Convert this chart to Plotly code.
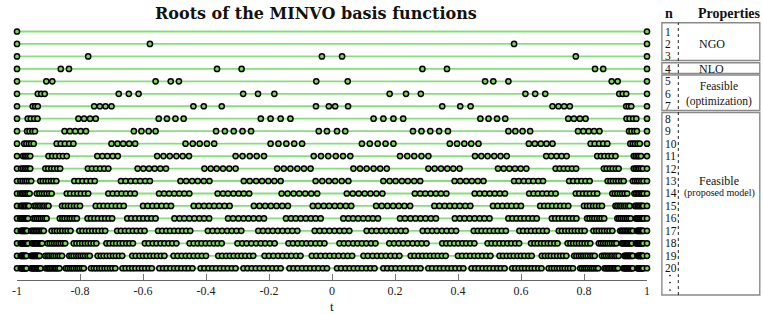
import plotly.graph_objects as go

# ---------------- data ----------------
T_MIN, T_MAX = -1.0, 1.0

n01 = [-1, 1]
n02 = [-1, -0.578, 0.578, 1]
n03 = [-1, -0.774, -0.032, 0.032, 0.774, 1]
n04 = [-1, -0.861, -0.835, -0.365, -0.287, 0.287, 0.365, 0.835, 0.861, 1]
n05 = [-1, -0.907, -0.888, -0.560, -0.512, -0.486, -0.050, 0.050, 0.486, 0.512, 0.560, 0.888, 0.907, 1]
n06 = [-1, -0.934, -0.923, -0.912, -0.677, -0.645, -0.614, -0.282, -0.235, -0.183,
       0.183, 0.235, 0.282, 0.614, 0.645, 0.677, 0.912, 0.923, 0.934, 1]
n07 = [-1, -0.950, -0.942, -0.934, -0.755, -0.737, -0.719, -0.700, -0.440, -0.407, -0.350,
       -0.051, -0.010, 0.010, 0.051,
       0.350, 0.407, 0.440, 0.700, 0.719, 0.737, 0.755, 0.934, 0.942, 0.950, 1]
n08 = [-1, -0.966, -0.956, -0.945, -0.935, -0.805, -0.787, -0.768, -0.750,
       -0.550, -0.524, -0.497, -0.471, -0.226, -0.195, -0.163, -0.132,
       0.132, 0.163, 0.195, 0.226, 0.471, 0.497, 0.524, 0.550,
       0.750, 0.768, 0.787, 0.805, 0.935, 0.945, 0.956, 0.966, 1]
n09 = [-1, -0.968, -0.960, -0.951, -0.943, -0.849, -0.832, -0.815, -0.798, -0.781,
       -0.629, -0.605, -0.582, -0.560, -0.368, -0.340, -0.312, -0.284, -0.257,
       -0.042, -0.016, 0.016, 0.042,
       0.257, 0.284, 0.312, 0.340, 0.368, 0.560, 0.582, 0.605, 0.629,
       0.781, 0.798, 0.815, 0.832, 0.849, 0.943, 0.951, 0.960, 0.968, 1]
n10 = [-1, -0.977, -0.970, -0.962, -0.955, -0.947, -0.874, -0.861, -0.848, -0.834, -0.821,
       -0.700, -0.681, -0.663, -0.644, -0.625, -0.465, -0.442, -0.420, -0.397, -0.374,
       -0.195, -0.170, -0.145, -0.120, -0.095,
       0.095, 0.120, 0.145, 0.170, 0.195, 0.374, 0.397, 0.420, 0.442, 0.465,
       0.625, 0.644, 0.663, 0.681, 0.700, 0.821, 0.834, 0.848, 0.861, 0.874,
       0.947, 0.955, 0.962, 0.970, 0.977, 1]
n11 = [-1, -0.981, -0.975, -0.970, -0.964, -0.958, -0.900, -0.888, -0.877, -0.865, -0.854, -0.842,
       -0.745, -0.729, -0.713, -0.696, -0.680, -0.555, -0.535, -0.515, -0.494, -0.474, -0.454,
       -0.306, -0.284, -0.261, -0.239, -0.216,
       -0.058, -0.035, -0.012, 0.012, 0.035, 0.058,
       0.216, 0.239, 0.261, 0.284, 0.306, 0.454, 0.474, 0.494, 0.515, 0.535, 0.555,
       0.680, 0.696, 0.713, 0.729, 0.745, 0.842, 0.854, 0.865, 0.877, 0.888, 0.900,
       0.958, 0.964, 0.970, 0.975, 0.981, 1]
n12 = [-1, -0.987, -0.981, -0.975, -0.970, -0.964, -0.958, -0.910, -0.901, -0.891, -0.882, -0.872, -0.863,
       -0.775, -0.762, -0.749, -0.736, -0.723, -0.710, -0.617, -0.599, -0.581, -0.563, -0.545, -0.527,
       -0.405, -0.385, -0.366, -0.346, -0.326, -0.306, -0.174, -0.153, -0.132, -0.110, -0.089, -0.068,
       0.068, 0.089, 0.110, 0.132, 0.153, 0.174, 0.306, 0.326, 0.346, 0.366, 0.385, 0.405,
       0.527, 0.545, 0.563, 0.581, 0.599, 0.617, 0.710, 0.723, 0.736, 0.749, 0.762, 0.775,
       0.863, 0.872, 0.882, 0.891, 0.901, 0.910, 0.958, 0.964, 0.970, 0.975, 0.981, 0.987, 1]
n13 = [-1, -0.989, -0.982, -0.975, -0.969, -0.962, -0.955,
       -0.926, -0.918, -0.909, -0.901, -0.892, -0.884, -0.875,
       -0.818, -0.805, -0.792, -0.779, -0.766, -0.753,
       -0.670, -0.655, -0.639, -0.624, -0.609, -0.593, -0.578,
       -0.481, -0.463, -0.444, -0.426, -0.407, -0.389,
       -0.280, -0.261, -0.241, -0.222, -0.202, -0.183, -0.163,
       -0.052, -0.031, -0.010, 0.010, 0.031, 0.052,
       0.163, 0.183, 0.202, 0.222, 0.241, 0.261, 0.280,
       0.389, 0.407, 0.426, 0.444, 0.463, 0.481,
       0.578, 0.593, 0.609, 0.624, 0.639, 0.655, 0.670,
       0.753, 0.766, 0.779, 0.792, 0.805, 0.818,
       0.875, 0.884, 0.892, 0.901, 0.909, 0.918, 0.926,
       0.955, 0.962, 0.969, 0.975, 0.982, 0.989, 1]
n14 = [-1, -0.990, -0.985, -0.980, -0.975, -0.970, -0.965, -0.960,
       -0.937, -0.929, -0.921, -0.914, -0.906, -0.898, -0.890,
       -0.842, -0.831, -0.819, -0.808, -0.797, -0.785, -0.774,
       -0.710, -0.696, -0.682, -0.668, -0.654, -0.640, -0.626,
       -0.549, -0.533, -0.517, -0.501, -0.485, -0.469, -0.453,
       -0.363, -0.346, -0.330, -0.313, -0.296, -0.280, -0.263,
       -0.160, -0.141, -0.122, -0.104, -0.085, -0.066, -0.047,
       0.047, 0.066, 0.085, 0.104, 0.122, 0.141, 0.160,
       0.263, 0.280, 0.296, 0.313, 0.330, 0.346, 0.363,
       0.453, 0.469, 0.485, 0.501, 0.517, 0.533, 0.549,
       0.626, 0.640, 0.654, 0.668, 0.682, 0.696, 0.710,
       0.774, 0.785, 0.797, 0.808, 0.819, 0.831, 0.842,
       0.890, 0.898, 0.906, 0.914, 0.921, 0.929, 0.937,
       0.960, 0.965, 0.970, 0.975, 0.980, 0.985, 0.990, 1]
n15 = [-1, -0.988, -0.984, -0.979, -0.975, -0.971, -0.966, -0.962,
       -0.945, -0.939, -0.932, -0.926, -0.919, -0.913, -0.906, -0.900,
       -0.857, -0.848, -0.838, -0.829, -0.819, -0.810, -0.800,
       -0.750, -0.737, -0.725, -0.712, -0.699, -0.686, -0.674, -0.661,
       -0.600, -0.585, -0.570, -0.556, -0.541, -0.526, -0.511,
       -0.439, -0.423, -0.406, -0.390, -0.374, -0.358, -0.341, -0.325,
       -0.248, -0.230, -0.212, -0.194, -0.176, -0.158, -0.140,
       -0.061, -0.044, -0.026, -0.009, 0.009, 0.026, 0.044, 0.061,
       0.140, 0.158, 0.176, 0.194, 0.212, 0.230, 0.248,
       0.325, 0.341, 0.358, 0.374, 0.390, 0.406, 0.423, 0.439,
       0.511, 0.526, 0.541, 0.556, 0.570, 0.585, 0.600,
       0.661, 0.674, 0.686, 0.699, 0.712, 0.725, 0.737, 0.750,
       0.800, 0.810, 0.819, 0.829, 0.838, 0.848, 0.857,
       0.900, 0.906, 0.913, 0.919, 0.926, 0.932, 0.939, 0.945,
       0.962, 0.966, 0.971, 0.975, 0.979, 0.984, 0.988, 1]
n16 = [-1, -0.990, -0.986, -0.983, -0.979, -0.976, -0.972, -0.969, -0.965,
       -0.948, -0.942, -0.936, -0.930, -0.924, -0.918, -0.912, -0.906,
       -0.864, -0.856, -0.849, -0.841, -0.833, -0.826, -0.818, -0.810,
       -0.776, -0.765, -0.754, -0.743, -0.731, -0.720, -0.709, -0.698,
       -0.650, -0.637, -0.624, -0.611, -0.599, -0.586, -0.573, -0.560,
       -0.500, -0.484, -0.469, -0.453, -0.437, -0.421, -0.406, -0.390,
       -0.330, -0.314, -0.297, -0.281, -0.265, -0.249, -0.232, -0.216,
       -0.146, -0.130, -0.115, -0.099, -0.083, -0.067, -0.052, -0.036,
       0.036, 0.052, 0.067, 0.083, 0.099, 0.115, 0.130, 0.146,
       0.216, 0.232, 0.249, 0.265, 0.281, 0.297, 0.314, 0.330,
       0.390, 0.406, 0.421, 0.437, 0.453, 0.469, 0.484, 0.500,
       0.560, 0.573, 0.586, 0.599, 0.611, 0.624, 0.637, 0.650,
       0.698, 0.709, 0.720, 0.731, 0.743, 0.754, 0.765, 0.776,
       0.810, 0.818, 0.826, 0.833, 0.841, 0.849, 0.856, 0.864,
       0.906, 0.912, 0.918, 0.924, 0.930, 0.936, 0.942, 0.948,
       0.965, 0.969, 0.972, 0.976, 0.979, 0.983, 0.986, 0.990, 1]
n17 = [-1, -0.988, -0.985, -0.982, -0.979, -0.977, -0.974, -0.971, -0.968,
       -0.955, -0.950, -0.945, -0.940, -0.935, -0.930, -0.925, -0.920, -0.915,
       -0.890, -0.881, -0.873, -0.864, -0.856, -0.847, -0.839, -0.830,
       -0.802, -0.792, -0.781, -0.771, -0.761, -0.751, -0.741, -0.730, -0.720,
       -0.682, -0.670, -0.657, -0.645, -0.632, -0.620, -0.607, -0.595,
       -0.552, -0.539, -0.526, -0.514, -0.501, -0.488, -0.475, -0.463, -0.450,
       -0.394, -0.379, -0.364, -0.349, -0.333, -0.318, -0.303, -0.288,
       -0.234, -0.219, -0.203, -0.188, -0.172, -0.157, -0.141, -0.126, -0.110,
       -0.055, -0.039, -0.024, -0.008, 0.008, 0.024, 0.039, 0.055,
       0.110, 0.126, 0.141, 0.157, 0.172, 0.188, 0.203, 0.219, 0.234,
       0.288, 0.303, 0.318, 0.333, 0.349, 0.364, 0.379, 0.394,
       0.450, 0.463, 0.475, 0.488, 0.501, 0.514, 0.526, 0.539, 0.552,
       0.595, 0.607, 0.620, 0.632, 0.645, 0.657, 0.670, 0.682,
       0.720, 0.730, 0.741, 0.751, 0.761, 0.771, 0.781, 0.792, 0.802,
       0.830, 0.839, 0.847, 0.856, 0.864, 0.873, 0.881, 0.890,
       0.915, 0.920, 0.925, 0.930, 0.935, 0.940, 0.945, 0.950, 0.955,
       0.968, 0.971, 0.974, 0.977, 0.979, 0.982, 0.985, 0.988, 1]
n18 = [-1, -0.988, -0.985, -0.982, -0.979, -0.977, -0.974, -0.971, -0.968, -0.965,
       -0.952, -0.948, -0.944, -0.940, -0.936, -0.932, -0.928, -0.924, -0.920,
       -0.903, -0.896, -0.889, -0.882, -0.875, -0.868, -0.861, -0.854, -0.847,
       -0.820, -0.811, -0.802, -0.793, -0.784, -0.775, -0.766, -0.757, -0.748,
       -0.716, -0.706, -0.695, -0.685, -0.674, -0.664, -0.653, -0.643, -0.632,
       -0.594, -0.582, -0.569, -0.557, -0.544, -0.532, -0.519, -0.507, -0.494,
       -0.452, -0.439, -0.426, -0.414, -0.401, -0.388, -0.375, -0.363, -0.350,
       -0.300, -0.285, -0.271, -0.256, -0.241, -0.226, -0.212, -0.197, -0.182,
       -0.138, -0.124, -0.109, -0.095, -0.081, -0.067, -0.052, -0.038, -0.024,
       0.024, 0.038, 0.052, 0.067, 0.081, 0.095, 0.109, 0.124, 0.138,
       0.182, 0.197, 0.212, 0.226, 0.241, 0.256, 0.271, 0.285, 0.300,
       0.350, 0.363, 0.375, 0.388, 0.401, 0.414, 0.426, 0.439, 0.452,
       0.494, 0.507, 0.519, 0.532, 0.544, 0.557, 0.569, 0.582, 0.594,
       0.632, 0.643, 0.653, 0.664, 0.674, 0.685, 0.695, 0.706, 0.716,
       0.748, 0.757, 0.766, 0.775, 0.784, 0.793, 0.802, 0.811, 0.820,
       0.847, 0.854, 0.861, 0.868, 0.875, 0.882, 0.889, 0.896, 0.903,
       0.920, 0.924, 0.928, 0.932, 0.936, 0.940, 0.944, 0.948, 0.952,
       0.965, 0.968, 0.971, 0.974, 0.977, 0.979, 0.982, 0.985, 0.988, 1]
n19 = [-1, -0.988, -0.986, -0.984, -0.981, -0.979, -0.977, -0.975, -0.972, -0.970,
       -0.955, -0.952, -0.949, -0.946, -0.943, -0.940, -0.937, -0.934, -0.931, -0.928,
       -0.910, -0.903, -0.897, -0.890, -0.884, -0.877, -0.870, -0.864, -0.857,
       -0.834, -0.827, -0.820, -0.812, -0.805, -0.798, -0.791, -0.784, -0.776, -0.769,
       -0.744, -0.734, -0.725, -0.715, -0.705, -0.695, -0.686, -0.676, -0.666,
       -0.634, -0.623, -0.611, -0.600, -0.589, -0.577, -0.566, -0.555, -0.543, -0.532,
       -0.503, -0.490, -0.477, -0.464, -0.452, -0.439, -0.426, -0.413, -0.400,
       -0.361, -0.349, -0.336, -0.324, -0.312, -0.299, -0.287, -0.275, -0.262, -0.250,
       -0.214, -0.200, -0.186, -0.171, -0.157, -0.143, -0.129, -0.114, -0.100,
       -0.064, -0.050, -0.036, -0.021, -0.007, 0.007, 0.021, 0.036, 0.050, 0.064,
       0.100, 0.114, 0.129, 0.143, 0.157, 0.171, 0.186, 0.200, 0.214,
       0.250, 0.262, 0.275, 0.287, 0.299, 0.312, 0.324, 0.336, 0.349, 0.361,
       0.400, 0.413, 0.426, 0.439, 0.452, 0.464, 0.477, 0.490, 0.503,
       0.532, 0.543, 0.555, 0.566, 0.577, 0.589, 0.600, 0.611, 0.623, 0.634,
       0.666, 0.676, 0.686, 0.695, 0.705, 0.715, 0.725, 0.734, 0.744,
       0.769, 0.776, 0.784, 0.791, 0.798, 0.805, 0.812, 0.820, 0.827, 0.834,
       0.857, 0.864, 0.870, 0.877, 0.884, 0.890, 0.897, 0.903, 0.910,
       0.928, 0.931, 0.934, 0.937, 0.940, 0.943, 0.946, 0.949, 0.952, 0.955,
       0.970, 0.972, 0.975, 0.977, 0.979, 0.981, 0.984, 0.986, 0.988, 1]
n20 = [-1, -0.988, -0.986, -0.984, -0.982, -0.980, -0.978, -0.976, -0.974, -0.972, -0.970,
       -0.955, -0.952, -0.948, -0.945, -0.942, -0.938, -0.935, -0.932, -0.928, -0.925,
       -0.908, -0.903, -0.898, -0.894, -0.889, -0.884, -0.879, -0.875, -0.870, -0.865,
       -0.845, -0.839, -0.832, -0.826, -0.820, -0.813, -0.807, -0.801, -0.794, -0.788,
       -0.765, -0.756, -0.748, -0.739, -0.731, -0.722, -0.714, -0.705, -0.697, -0.688,
       -0.665, -0.655, -0.644, -0.634, -0.624, -0.613, -0.603, -0.593, -0.582, -0.572,
       -0.548, -0.536, -0.525, -0.513, -0.501, -0.490, -0.478, -0.466, -0.455, -0.443,
       -0.417, -0.405, -0.392, -0.380, -0.368, -0.355, -0.343, -0.331, -0.318, -0.306,
       -0.281, -0.268, -0.255, -0.242, -0.229, -0.216, -0.202, -0.189, -0.176, -0.163,
       -0.135, -0.122, -0.109, -0.095, -0.082, -0.069, -0.056, -0.043, -0.029, -0.016,
       0.016, 0.029, 0.043, 0.056, 0.069, 0.082, 0.095, 0.109, 0.122, 0.135,
       0.163, 0.176, 0.189, 0.202, 0.216, 0.229, 0.242, 0.255, 0.268, 0.281,
       0.306, 0.318, 0.331, 0.343, 0.355, 0.368, 0.380, 0.392, 0.405, 0.417,
       0.443, 0.455, 0.466, 0.478, 0.490, 0.501, 0.513, 0.525, 0.536, 0.548,
       0.572, 0.582, 0.593, 0.603, 0.613, 0.624, 0.634, 0.644, 0.655, 0.665,
       0.688, 0.697, 0.705, 0.714, 0.722, 0.731, 0.739, 0.748, 0.756, 0.765,
       0.788, 0.794, 0.801, 0.807, 0.813, 0.820, 0.826, 0.832, 0.839, 0.845,
       0.865, 0.870, 0.875, 0.879, 0.884, 0.889, 0.894, 0.898, 0.903, 0.908,
       0.925, 0.928, 0.932, 0.935, 0.938, 0.942, 0.945, 0.948, 0.952, 0.955,
       0.970, 0.972, 0.974, 0.976, 0.978, 0.980, 0.982, 0.984, 0.986, 0.988, 1]

roots = [n01, n02, n03, n04, n05, n06, n07, n08, n09, n10,
         n11, n12, n13, n14, n15, n16, n17, n18, n19, n20]
degrees = list(range(1, 21))

tick_vals = [-1, -0.8, -0.6, -0.4, -0.2, 0, 0.2, 0.4, 0.6, 0.8, 1]
tick_text = ["-1", "-0.8", "-0.6", "-0.4", "-0.2", "0", "0.2", "0.4", "0.6", "0.8", "1"]

# property groups of the side table: (label, sublabel, first n, last n)
groups = [("NGO", "", 1, 3), ("NLO", "", 4, 4),
          ("Feasible", "(optimization)", 5, 7),
          ("Feasible", "(proposed model)", 8, 20)]

# ---------------- layout geometry ----------------
W, H = 763, 314
ML, MR, MT, MB = 13, 116, 20, 34
PW, PH = W - ML - MR, H - MT - MB
Y_TOP, Y_BOT = 0.077, 20.944

def fx(px):
    return (px - ML) / PW

def fy(py):
    return (H - MB - py) / PH

SERIF = "Liberation Serif, DejaVu Serif, serif"
TITLE_FONT = "DejaVu Serif, serif"
LINE_GREEN = "#86e07a"
DOT_GREEN = "#7ed45e"

fig = go.Figure()

# horizontal guide lines, one per degree
lx, ly = [], []
for n in degrees:
    lx += [T_MIN, T_MAX, None]
    ly += [n, n, None]
fig.add_trace(go.Scatter(x=lx, y=ly, mode="lines",
                         line=dict(color=LINE_GREEN, width=1.8),
                         hoverinfo="skip", showlegend=False))

for n, r in zip(degrees, roots):
    xs = sorted(r)
    fig.add_trace(go.Scatter(
        x=xs, y=[n] * len(xs), mode="markers", cliponaxis=False,
        marker=dict(size=5.2, color=DOT_GREEN, line=dict(color="black", width=1.5)),
        showlegend=False, name=f"n={n}"))

shapes = []
annotations = []

def text(t, x, y, size, yref="paper", family=SERIF, xanchor="center", pad=1):
    annotations.append(dict(text=t, x=x, y=y, xref="paper", yref=yref, showarrow=False,
                            xanchor=xanchor, yanchor="middle", borderpad=pad,
                            font=dict(family=family, size=size, color="#111")))

# title and axis title
text("<b>Roots of the MINVO basis functions</b>", fx(314), fy(13), 16, family=TITLE_FONT)
text("t", fx(330), fy(306), 13)

# side table headers
text("<b>n</b>", fx(669), fy(13), 14)
text("<b>Properties</b>", fx(730), fy(13), 14)

box_px = [(22.7, 60.5), (62.7, 73.5), (75.0, 110.5), (112.5, 295.0)]
for (top, bot) in box_px:
    shapes.append(dict(type="rect", xref="paper", yref="paper",
                       x0=fx(662), x1=fx(760.5), y0=fy(bot), y1=fy(top),
                       line=dict(color="#8a8a8a", width=1.4)))
shapes.append(dict(type="line", xref="paper", yref="paper", x0=fx(678.5), x1=fx(678.5),
                   y0=fy(295), y1=fy(22.7), line=dict(color="#222", width=1, dash="dot")))

for n in degrees:
    text(str(n), fx(664.5), n, 11.5, yref="y", xanchor="left", pad=0)
for py in (275.5, 282.5, 290):
    shapes.append(dict(type="circle", xref="paper", yref="paper",
                       x0=fx(669.3), x1=fx(671.0), y0=fy(py + 0.85), y1=fy(py - 0.85),
                       fillcolor="#111", line=dict(width=0)))

# group labels, placed at the middle row(s) of each group
for label, sub, a, b in groups:
    if not sub:
        text(label, fx(712), (a + b) / 2, 12)
        annotations[-1]["yref"] = "y"
    elif b - a < 5:
        text(f"{label}<br>{sub}", fx(719), (a + b) / 2, 11.5, yref="y", pad=0)
    else:
        text(label, fx(719), 13, 12, yref="y", pad=0)
        text(sub, fx(719.5), 14, 10, yref="y", pad=0)

fig.update_layout(
    width=W, height=H, margin=dict(l=ML, r=MR, t=MT, b=MB),
    paper_bgcolor="white", plot_bgcolor="white", showlegend=False,
    shapes=shapes, annotations=annotations,
    xaxis=dict(range=[T_MIN, T_MAX], tickvals=tick_vals, ticktext=tick_text,
               showline=True, linecolor="#666", linewidth=1, ticks="inside", ticklen=6,
               tickwidth=1, tickcolor="#777", showgrid=False, zeroline=False,
               tickfont=dict(family=SERIF, size=12, color="#222")),
    yaxis=dict(range=[Y_BOT, Y_TOP], visible=False, showgrid=False, zeroline=False),
)

fig.write_html("out.html", config={"displayModeBar": False},
               post_script="document.body.style.margin='0px';document.body.style.overflow='hidden';")
